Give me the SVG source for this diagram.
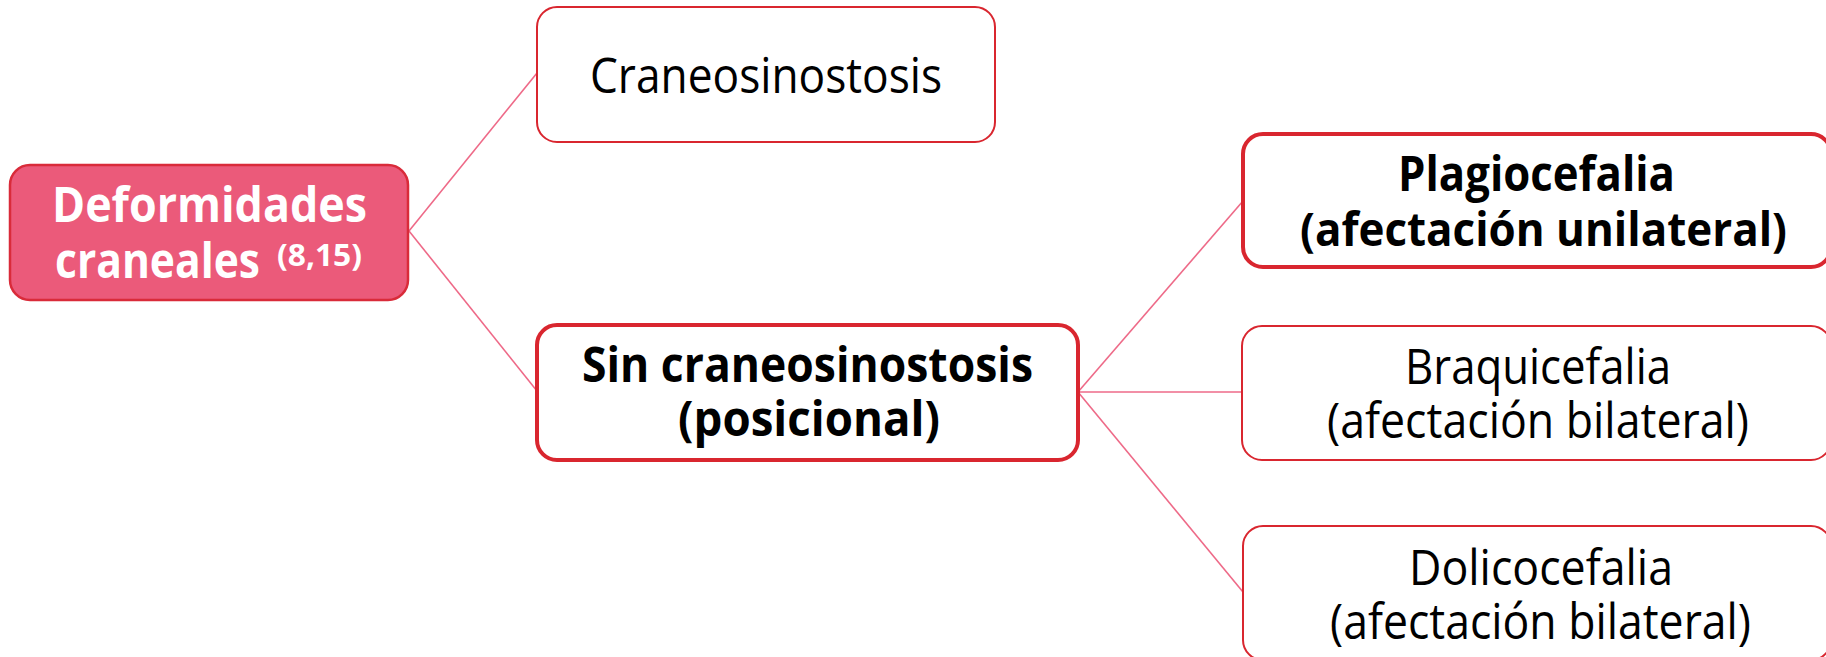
<svg xmlns="http://www.w3.org/2000/svg" width="1826" height="657" viewBox="0 0 1826 657">
<style>
.box{fill:#ffffff;stroke:#D9262F;}
.thin{stroke-width:2;}
.thick{stroke-width:4;}
.root{fill:#EB5A7A;stroke:#D92B3A;stroke-width:2.5;}
.t{font-family:"Open Sans","Noto Sans","Liberation Sans",sans-serif;font-size:49px;fill:#000000;}
.b{font-weight:bold;}
.w{fill:#ffffff;font-weight:bold;}
.sup{font-size:30px;}
.sm{font-size:46px;}
.conn{stroke:#EE6A88;stroke-width:1.6;fill:none;}
</style>
<rect width="1826" height="657" fill="#ffffff"/>
<g id="connectors">
<line class="conn" x1="409" y1="231" x2="537" y2="73"/>
<line class="conn" x1="409" y1="231" x2="537" y2="391"/>
<line class="conn" x1="1078" y1="392" x2="1243" y2="201"/>
<line class="conn" x1="1078" y1="392" x2="1242" y2="392"/>
<line class="conn" x1="1078" y1="392" x2="1243" y2="592"/>
</g>
<g id="root">
<rect class="root" x="10" y="165" width="398" height="135" rx="20"/>
<text class="t w"><tspan x="52" y="222" textLength="315" lengthAdjust="spacingAndGlyphs">Deformidades</tspan><tspan x="55" y="278" textLength="205" lengthAdjust="spacingAndGlyphs">craneales</tspan><tspan class="sup" x="277" y="266" textLength="85" lengthAdjust="spacingAndGlyphs">(8,15)</tspan></text>
</g>
<g id="craneosinostosis">
<rect class="box thin" x="537" y="7" width="458" height="135" rx="20"/>
<text class="t" x="590" y="93" textLength="352" lengthAdjust="spacingAndGlyphs">Craneosinostosis</text>
</g>
<g id="sin">
<rect class="box thick" x="537" y="325" width="541" height="135" rx="20"/>
<text class="t b"><tspan x="582" y="382" textLength="451" lengthAdjust="spacingAndGlyphs">Sin craneosinostosis</tspan><tspan x="678" y="436" textLength="262" lengthAdjust="spacingAndGlyphs">(posicional)</tspan></text>
</g>
<g id="plagiocefalia">
<rect class="box thick" x="1243" y="134" width="588" height="133" rx="20"/>
<text class="t b"><tspan x="1398" y="191" textLength="277" lengthAdjust="spacingAndGlyphs">Plagiocefalia</tspan><tspan class="sm" x="1300" y="246" textLength="487" lengthAdjust="spacingAndGlyphs">(afectación unilateral)</tspan></text>
</g>
<g id="braquicefalia">
<rect class="box thin" x="1242" y="326" width="589" height="134" rx="20"/>
<text class="t"><tspan x="1405" y="384" textLength="266" lengthAdjust="spacingAndGlyphs">Braquicefalia</tspan><tspan x="1327" y="438" textLength="422" lengthAdjust="spacingAndGlyphs">(afectación bilateral)</tspan></text>
</g>
<g id="dolicocefalia">
<rect class="box thin" x="1243" y="526" width="588" height="134" rx="20"/>
<text class="t"><tspan x="1409" y="585" textLength="264" lengthAdjust="spacingAndGlyphs">Dolicocefalia</tspan><tspan x="1330" y="639" textLength="421" lengthAdjust="spacingAndGlyphs">(afectación bilateral)</tspan></text>
</g>
</svg>
